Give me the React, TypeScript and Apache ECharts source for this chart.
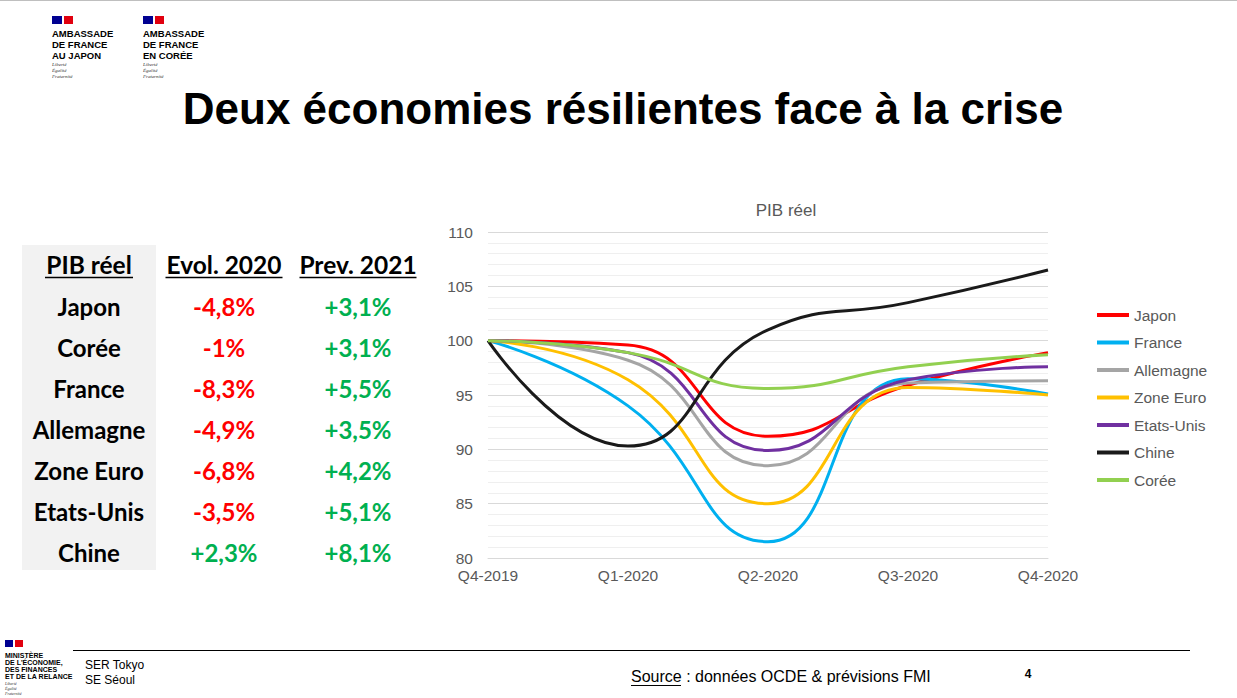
import React, { useEffect, useRef } from "react";
import * as echarts from "echarts";

const categories = ["Q4-2019", "Q1-2020", "Q2-2020", "Q3-2020", "Q4-2020"];
const japon = [100, 99.6, 91.2, 95.9, 98.9];
const france = [100, 94.0, 81.5, 96.5, 95.1];
const allemagne = [100, 98.2, 88.5, 96.1, 96.3];
const zoneEuro = [100, 96.4, 85.0, 95.7, 95.0];
const etatsUnis = [100, 98.9, 89.9, 96.4, 97.6];
const chine = [100, 90.3, 101.0, 103.5, 106.5];
const coree = [100, 98.9, 95.6, 97.6, 98.7];

const seriesNames = ["Japon", "France", "Allemagne", "Zone Euro", "Etats-Unis", "Chine", "Corée"];
const seriesData = [japon, france, allemagne, zoneEuro, etatsUnis, chine, coree];
const seriesColors = ["#ff0000", "#00b0f0", "#a5a5a5", "#ffc000", "#7030a0", "#1a1a1a", "#92d050"];

const tableHeaders = ["PIB réel", "Evol. 2020", "Prev. 2021"];
const tableCountries = ["Japon", "Corée", "France", "Allemagne", "Zone Euro", "Etats-Unis", "Chine"];
const evol2020 = ["-4,8%", "-1%", "-8,3%", "-4,9%", "-6,8%", "-3,5%", "+2,3%"];
const prev2021 = ["+3,1%", "+3,1%", "+5,5%", "+3,5%", "+4,2%", "+5,1%", "+8,1%"];

const ARIAL = "'Liberation Sans', Arial, sans-serif";
const CAL = "Lato, 'Open Sans', sans-serif";

function txt(x: number, y: number, text: string, font: string, fill = "#000", align = "left", valign = "middle") {
  return {
    type: "text",
    x,
    y,
    style: { text, font, fill, textAlign: align, textVerticalAlign: valign },
  };
}

function embassyLogo(x: number, l1: string, l2: string, l3: string) {
  const f = `bold 9.5px ${ARIAL}`;
  const s = `italic 5px serif`;
  return [
    { type: "rect", shape: { x, y: 16, width: 10, height: 8 }, style: { fill: "#000091" } },
    { type: "rect", shape: { x: x + 12, y: 16, width: 9, height: 8 }, style: { fill: "#e1000f" } },
    txt(x, 33, l1, f),
    txt(x, 44, l2, f),
    txt(x, 55, l3, f),
    txt(x, 64, "Liberté", s, "#333"),
    txt(x, 70, "Égalité", s, "#333"),
    txt(x, 76, "Fraternité", s, "#333"),
  ];
}

function buildGraphics() {
  const g: any[] = [];
  g.push({ type: "line", shape: { x1: 0, y1: 0.5, x2: 1237, y2: 0.5 }, style: { stroke: "#bfbfbf", lineWidth: 1 } });
  g.push(...embassyLogo(52, "AMBASSADE", "DE FRANCE", "AU JAPON"));
  g.push(...embassyLogo(143, "AMBASSADE", "DE FRANCE", "EN CORÉE"));
  g.push(txt(623, 108, "Deux économies résilientes face à la crise", `bold 44px ${ARIAL}`, "#000", "center"));

  // table
  g.push({ type: "rect", shape: { x: 22, y: 245, width: 134, height: 325 }, style: { fill: "#f2f2f2" } });
  const colX = [89, 224, 358];
  const hf = `bold 24.5px ${CAL}`;
  const headerWidths = [88, 117, 117];
  tableHeaders.forEach((h, i) => {
    g.push(txt(colX[i], 264, h, hf, "#000", "center"));
    g.push({
      type: "line",
      shape: { x1: colX[i] - headerWidths[i] / 2, y1: 277.5, x2: colX[i] + headerWidths[i] / 2, y2: 277.5 },
      style: { stroke: "#000", lineWidth: 1.5 },
    });
  });
  const rf = `bold 24px ${CAL}`;
  tableCountries.forEach((c, i) => {
    const y = 306 + i * 41;
    g.push(txt(colX[0], y, c, rf, "#000", "center"));
    g.push(txt(colX[1], y, evol2020[i], rf, evol2020[i].startsWith("-") ? "#ff0000" : "#00b050", "center"));
    g.push(txt(colX[2], y, prev2021[i], rf, prev2021[i].startsWith("-") ? "#ff0000" : "#00b050", "center"));
  });

  // footer
  g.push({ type: "rect", shape: { x: 5, y: 640, width: 8, height: 7 }, style: { fill: "#000091" } });
  g.push({ type: "rect", shape: { x: 15, y: 640, width: 8, height: 7 }, style: { fill: "#e1000f" } });
  const mf = `bold 7px ${ARIAL}`;
  g.push(txt(5, 655, "MINISTÈRE", mf));
  g.push(txt(5, 662, "DE L'ÉCONOMIE,", mf));
  g.push(txt(5, 669, "DES FINANCES", mf));
  g.push(txt(5, 676, "ET DE LA RELANCE", mf));
  g.push(txt(5, 683, "Liberté", "italic 4px serif", "#333"));
  g.push(txt(5, 688, "Égalité", "italic 4px serif", "#333"));
  g.push(txt(5, 693, "Fraternité", "italic 4px serif", "#333"));
  g.push({ type: "line", shape: { x1: 73, y1: 650.5, x2: 1190, y2: 650.5 }, style: { stroke: "#000", lineWidth: 1 } });
  g.push(txt(85, 665, "SER Tokyo", `12px ${ARIAL}`));
  g.push(txt(85, 680, "SE Séoul", `12px ${ARIAL}`));
  g.push(txt(631, 676, "Source : données OCDE & prévisions FMI", `16px ${ARIAL}`));
  g.push({ type: "line", shape: { x1: 631, y1: 685.5, x2: 681, y2: 685.5 }, style: { stroke: "#000", lineWidth: 1 } });
  g.push(txt(1028, 674, "4", `bold 12px ${ARIAL}`, "#000", "center"));
  return g;
}

export default function App() {
  const ref = useRef<HTMLDivElement>(null);
  useEffect(() => {
    if (!ref.current) return;
    const chart = echarts.init(ref.current, null, { renderer: "svg" });
    chart.setOption({
      animation: false,
      backgroundColor: "#ffffff",
      title: {
        text: "PIB réel",
        left: 781,
        top: 197,
        textAlign: "center",
        textStyle: { fontFamily: ARIAL, fontSize: 17, fontWeight: "normal", color: "#595959" },
      },
      grid: { left: 488, right: 189, top: 232, bottom: 140, containLabel: false },
      legend: {
        orient: "vertical",
        left: 1092,
        top: 302,
        icon: "rect",
        itemWidth: 32,
        itemHeight: 4,
        itemGap: 11.5,
        data: seriesNames,
        textStyle: { fontFamily: ARIAL, fontSize: 15.5, color: "#595959" },
      },
      xAxis: {
        type: "category",
        data: categories,
        boundaryGap: false,
        axisLine: { show: true, lineStyle: { color: "#d9d9d9" } },
        axisTick: { show: false },
        axisLabel: { fontFamily: ARIAL, fontSize: 15.5, color: "#595959", margin: 9 },
      },
      yAxis: {
        type: "value",
        min: 80,
        max: 110,
        interval: 5,
        axisLine: { show: false },
        axisTick: { show: false },
        axisLabel: { fontFamily: ARIAL, fontSize: 15.5, color: "#595959", margin: 15 },
        splitLine: { lineStyle: { color: "#d9d9d9", width: 1 } },
        minorTick: { show: false, splitNumber: 5 },
        minorSplitLine: { show: true, lineStyle: { color: "#efefef", width: 1 } },
      },
      series: seriesNames.map((n, i) => ({
        name: n,
        type: "line",
        data: seriesData[i],
        smooth: 0.5,
        showSymbol: false,
        symbol: "none",
        lineStyle: { width: 3, color: seriesColors[i] },
        itemStyle: { color: seriesColors[i] },
      })),
      graphic: buildGraphics(),
    });
    return () => chart.dispose();
  }, []);
  return <div ref={ref} style={{ position: "absolute", left: 0, top: 0, width: 1237, height: 698 }} />;
}
